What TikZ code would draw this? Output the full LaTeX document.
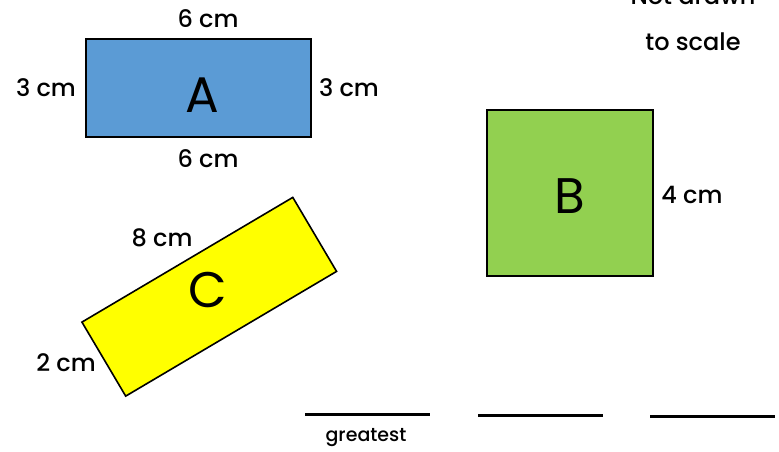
\documentclass[tikz,border=0pt]{standalone}
\usepackage{fontspec}
\setmainfont{Poppins Medium}
\newfontfamily\letterfont{Poppins}
\usetikzlibrary{positioning}
\definecolor{fill_a}{HTML}{5B9BD5}
\definecolor{fill_b}{HTML}{92D050}
\definecolor{fill_c}{HTML}{FFFF00}
\tikzset{
	shape_box/.style = {
		rectangle,
		draw=black,
		line width=1.6pt,
		inner sep=0pt
	},
	letter/.style = {
		font=\letterfont\fontsize{50}{52}\selectfont,
		inner sep=0pt
	},
	label_cm/.style = {
		font=\fontsize{24}{26}\selectfont,
		inner sep=0pt
	},
	blank_line/.style = {
		line width=3pt
	},
}
\begin{document}
\begin{tikzpicture}[x=1pt,y=-1pt]
\useasboundingbox (0,0) rectangle (779,451);
% rectangle A
\node [shape_box, fill=fill_a, minimum width=225pt, minimum height=98pt] (A) at (198.5,88) {};
\node [letter] (A_name) at (202,95) {A};
\node [label_cm] (A_top) at (208,19) {6 cm};
\node [label_cm] (A_bottom) at (208,159) {6 cm};
\node [label_cm] (A_left) at (46,88) {3 cm};
\node [label_cm] (A_right) at (349,88) {3 cm};
% square B
\node [shape_box, fill=fill_b, minimum width=166pt, minimum height=166pt] (B) at (570,193) {};
\node [letter] (B_name) at (570,196) {B};
\node [label_cm] (B_side) at (692,195) {4 cm};
% tilted rectangle C
\node [shape_box, fill=fill_c, minimum width=245pt, minimum height=86pt, rotate=30.6] (C) at (209.25,296.75) {};
\node [letter] (C_name) at (208,290) {C};
\node [label_cm] (C_long) at (162,238) {8 cm};
\node [label_cm] (C_short) at (66,363) {2 cm};
% note
\node [label_cm] (note_top) at (693,-4) {Not drawn};
\node [label_cm] (note_bottom) at (693,42) {to scale};
% answer lines
\coordinate (line1_l) at (305,414);
\coordinate (line1_r) at (430,414);
\coordinate (line2_l) at (478,415);
\coordinate (line2_r) at (603,415);
\coordinate (line3_l) at (650,416);
\coordinate (line3_r) at (775,416);
\draw [blank_line] (line1_l) -- (line1_r);
\draw [blank_line] (line2_l) -- (line2_r);
\draw [blank_line] (line3_l) -- (line3_r);
\node [label_cm, font=\fontsize{19}{21}\selectfont] (greatest) at (366,438) {greatest};
\end{tikzpicture}
\end{document}
